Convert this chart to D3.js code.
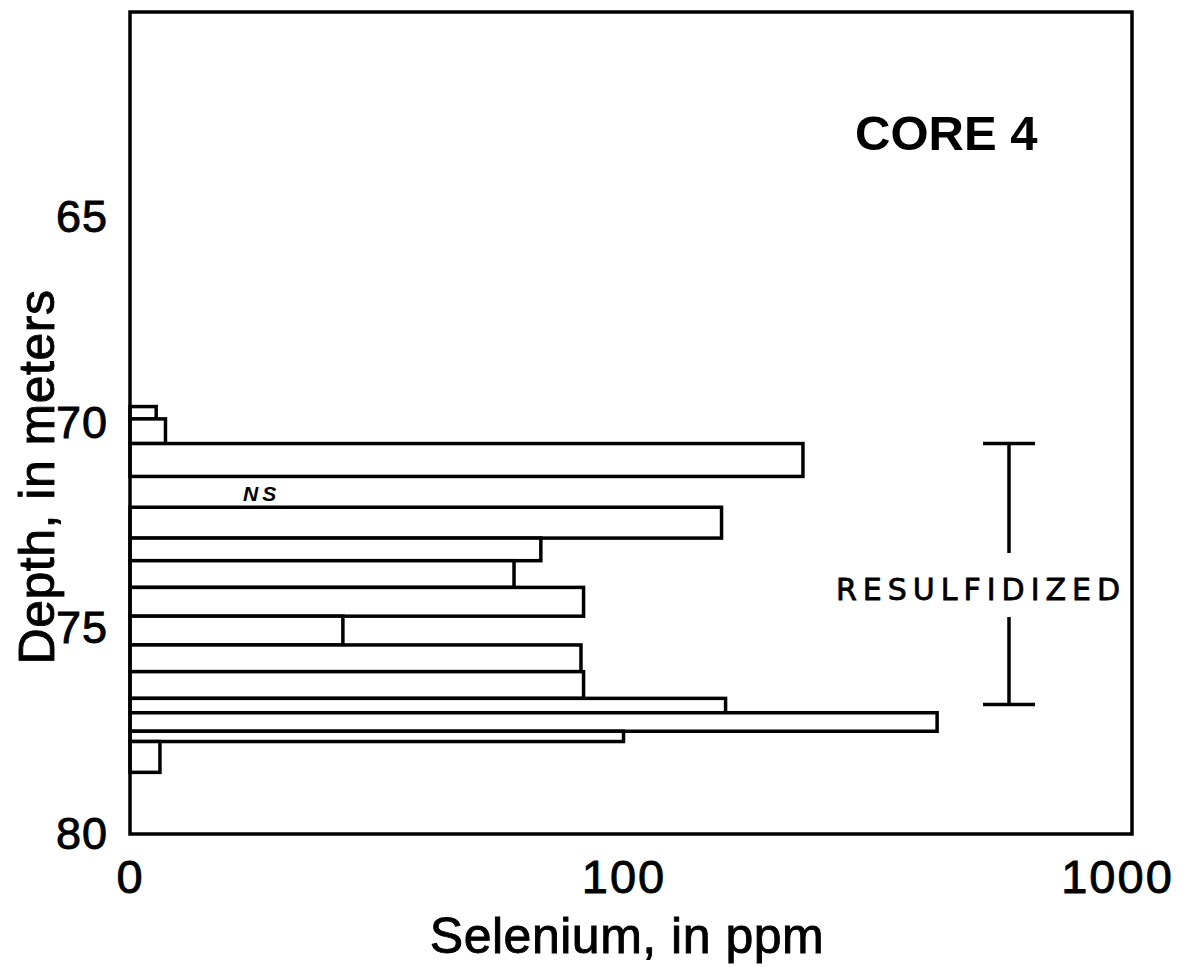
<!DOCTYPE html>
<html>
<head>
<meta charset="utf-8">
<script src="https://cdn.jsdelivr.net/npm/d3@7"></script>
<style>
  html, body { margin: 0; padding: 0; background: #fff; }
  svg { display: block; }
</style>
</head>
<body>
<svg id="chart" width="1190" height="967"></svg>
<script>
// Selenium content by depth interval, core 4
const depthTop    = [69.6, 69.9, 70.5, 72.05, 72.8, 73.35, 74.0, 74.7, 75.4, 76.05, 76.7, 77.05, 77.5, 77.75];
const depthBottom = [69.9, 70.5, 71.3, 72.8, 73.35, 74.0, 74.7, 75.4, 76.05, 76.7, 77.05, 77.5, 77.75, 78.5];
const selenium    = [11.3, 11.8, 231, 158, 68, 60, 83, 27, 82, 83, 161, 432, 100, 11.5];

// Interval with no sample
const notSampled = [71.3, 72.05];

// Resulfidized zone
const resulfidized = [70.5, 76.85];

const depthTicks = [65, 70, 75, 80];
const seleniumTicks = [10, 100, 1000];
const seleniumTickLabels = ["0", "100", "1000"];

const svg = d3.select("#chart");
const frame = { left: 130, right: 1132, top: 12, bottom: 834 };

const x = d3.scaleLog().domain([10, 1000]).range([frame.left, 1117]);
const y = d3.scaleLinear().domain([60, 80]).range([frame.top, frame.bottom]);

const FONT = "'Liberation Sans', Arial, Helvetica, sans-serif";
const ink = "#000";

// bars
const rows = selenium.map((v, i) => ({ v, top: depthTop[i], bottom: depthBottom[i] }));
svg.append("g")
  .selectAll("rect")
  .data(rows)
  .join("rect")
  .attr("x", frame.left)
  .attr("y", d => y(d.top))
  .attr("width", d => x(d.v) - frame.left)
  .attr("height", d => y(d.bottom) - y(d.top))
  .attr("fill", "#fff")
  .attr("stroke", ink)
  .attr("stroke-width", 3.5);

// plot frame
svg.append("rect")
  .attr("x", frame.left)
  .attr("y", frame.top)
  .attr("width", frame.right - frame.left)
  .attr("height", frame.bottom - frame.top)
  .attr("fill", "none")
  .attr("stroke", ink)
  .attr("stroke-width", 3.5);

// heavier lettering for all labels
function letter(sel, size) {
  return sel.attr("font-family", FONT)
    .attr("font-size", size)
    .attr("fill", ink)
    .attr("stroke", ink)
    .attr("stroke-width", 0.9);
}

// axes
const xAxis = d3.axisBottom(x)
  .tickValues(seleniumTicks)
  .tickSize(0)
  .tickPadding(26)
  .tickFormat((d, i) => seleniumTickLabels[i]);
const gx = svg.append("g").attr("transform", `translate(0,${frame.bottom})`).call(xAxis);
gx.select(".domain").remove();
letter(gx.selectAll("text"), 47).attr("letter-spacing", 2);

const yAxis = d3.axisLeft(y)
  .tickValues(depthTicks)
  .tickSize(0)
  .tickPadding(22)
  .tickFormat(d3.format("d"));
const gy = svg.append("g").attr("transform", `translate(${frame.left},0)`).call(yAxis);
gy.select(".domain").remove();
letter(gy.selectAll("text"), 45).attr("letter-spacing", 1);

// axis titles
letter(svg.append("text"), 50)
  .attr("x", 627)
  .attr("y", 953)
  .attr("text-anchor", "middle")
  .attr("letter-spacing", 0.5)
  .text("Selenium, in ppm");

letter(svg.append("text"), 50)
  .attr("transform", "translate(54,477) rotate(-90)")
  .attr("text-anchor", "middle")
  .attr("letter-spacing", 0.5)
  .text("Depth, in meters");

// core label
svg.append("text")
  .attr("x", 855)
  .attr("y", 150)
  .attr("font-family", FONT)
  .attr("font-weight", "bold")
  .attr("font-size", 49)
  .attr("fill", ink)
  .text("CORE 4");

// NS marker in the unsampled interval
svg.append("text")
  .attr("x", 243)
  .attr("y", (y(notSampled[0]) + y(notSampled[1])) / 2 + 9)
  .attr("font-family", FONT)
  .attr("font-weight", "bold")
  .attr("font-style", "italic")
  .attr("font-size", 21)
  .attr("letter-spacing", 4)
  .attr("fill", ink)
  .text("NS");

// resulfidized bracket
const bx = 1009, capHalf = 26;
const yTop = y(resulfidized[0]), yBot = y(resulfidized[1]);
const labelY = 600;
const br = svg.append("g").attr("stroke", ink).attr("stroke-width", 3.5).attr("fill", "none");
br.append("line").attr("x1", bx - capHalf).attr("x2", bx + capHalf).attr("y1", yTop).attr("y2", yTop);
br.append("line").attr("x1", bx).attr("x2", bx).attr("y1", yTop).attr("y2", labelY - 47);
br.append("line").attr("x1", bx).attr("x2", bx).attr("y1", labelY + 17).attr("y2", yBot);
br.append("line").attr("x1", bx - capHalf).attr("x2", bx + capHalf).attr("y1", yBot).attr("y2", yBot);

svg.append("text")
  .attr("x", 836)
  .attr("y", labelY)
  .attr("font-family", "'DejaVu Sans', sans-serif")
  .attr("font-size", 30)
  .attr("letter-spacing", 6)
  .attr("fill", ink)
  .attr("stroke", ink)
  .attr("stroke-width", 0.8)
  .text("RESULFIDIZED");
</script>
</body>
</html>
